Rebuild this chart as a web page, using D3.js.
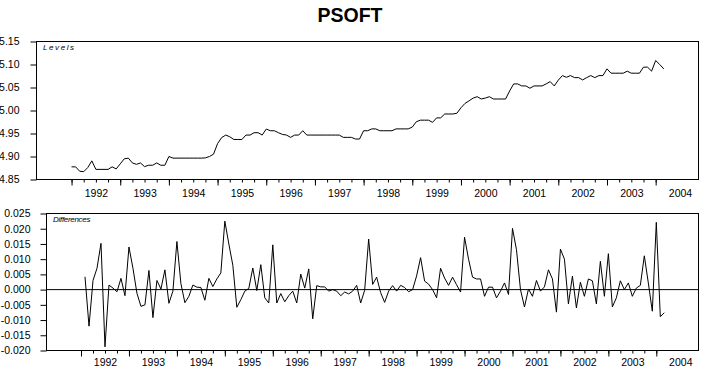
<!DOCTYPE html>
<html lang="en">
<head>
  <meta charset="UTF-8">
  <title>PSOFT</title>
  <style>
    body, html {
      margin: 0;
      padding: 0;
      background-color: white;
    }
    #svg {
      display: block;
      font-family: 'Liberation Sans', Arial, sans-serif;
    }
  </style>
</head>
<body>
  <svg id="svg" width="702" height="368"></svg>
  <script src="https://d3js.org/d3.v7.min.js"></script>
  <script>
    // monthly series, first level is 1992:01, first difference is 1992:02
    const startYear = 1992
    const levels = [
      4.8775, 4.8775, 4.868, 4.867, 4.876, 4.8905, 4.872, 4.872, 4.872, 4.872, 4.8775, 4.873,
      4.884, 4.895, 4.8965, 4.886, 4.883, 4.886, 4.878, 4.881, 4.881, 4.886, 4.881, 4.881,
      4.900, 4.8965, 4.8965, 4.8965, 4.8965, 4.8965, 4.8965, 4.8965, 4.8965, 4.897, 4.900, 4.905,
      4.928, 4.941, 4.9466, 4.943, 4.937, 4.937, 4.937, 4.9466, 4.9466, 4.9517, 4.9517, 4.9466,
      4.9597, 4.956, 4.956, 4.9517, 4.948, 4.9466, 4.9416, 4.9466, 4.9466, 4.956, 4.9466, 4.9466,
      4.9466, 4.9466, 4.9466, 4.9466, 4.9466, 4.9466, 4.9466, 4.9416, 4.9416, 4.9416, 4.938, 4.938,
      4.956, 4.956, 4.960, 4.960, 4.956, 4.956, 4.956, 4.956, 4.960, 4.960, 4.960, 4.960,
      4.964, 4.9756, 4.979, 4.979, 4.979, 4.9742, 4.984, 4.984, 4.9924, 4.9924, 4.9924, 4.994,
      5.006, 5.0154, 5.021, 5.027, 5.030, 5.025, 5.027, 5.030, 5.025, 5.025, 5.025, 5.025,
      5.0425, 5.0578, 5.0578, 5.0534, 5.0534, 5.0484, 5.0534, 5.0534, 5.0534, 5.0578, 5.0628, 5.0534,
      5.066, 5.0759, 5.0722, 5.0759, 5.0715, 5.0715, 5.0665, 5.0715, 5.0759, 5.0715, 5.0759, 5.0759,
      5.0905, 5.0811, 5.0811, 5.0811, 5.0811, 5.0855, 5.0811, 5.0811, 5.0811, 5.0942, 5.0942, 5.0855,
      5.1086, 5.100, 5.0905
    ]
    const differences = [
      0.0042, -0.0120, 0.0030, 0.0070, 0.0152, -0.0188, 0.0015, 0.0005, -0.0007, 0.0037, -0.0020,
      0.0140, 0.0070, -0.0012, -0.0055, -0.0050, 0.0063, -0.0092, 0.0030, 0.0002, 0.0065, -0.0045, -0.0005,
      0.0158, 0.0020, -0.0043, -0.0022, 0.0015, 0.0008, 0.0007, -0.0035, 0.0037, 0.0010, 0.0035, 0.0055,
      0.0225, 0.0150, 0.0080, -0.0058, -0.0033, -0.0005, 0.0004, 0.0071, -0.0003, 0.0082, -0.0027, -0.0044,
      0.0147, -0.0044, -0.0013, -0.0040, -0.0020, -0.0005, -0.0044, 0.0051, 0.0005, 0.0068, -0.0096, 0.0013,
      0.0009, 0.0009, -0.0005, 0.0000, -0.0005, -0.0020, -0.0008, -0.0014, -0.0005, 0.0014, -0.0044, -0.0002,
      0.0166, 0.0017, 0.0041, -0.0010, -0.0042, -0.0005, 0.0013, -0.0005, 0.0014, 0.0007, -0.0007, 0.0000,
      0.0045, 0.0105, 0.0028, 0.0018, 0.0000, -0.0027, 0.0070, 0.0038, 0.0014, 0.0041, 0.0016, -0.0008,
      0.0172, 0.0100, 0.0041, 0.0035, 0.0035, -0.0022, 0.0008, 0.0008, -0.0027, -0.0005, 0.0022, -0.0016,
      0.0201, 0.0131, 0.0000, -0.0057, 0.0002, -0.0022, 0.0030, -0.0005, 0.0009, 0.0065, 0.0035, -0.0074,
      0.0133, 0.0100, -0.0047, 0.0044, -0.0060, 0.0024, -0.0022, 0.0035, 0.0029, -0.0047, 0.0093, -0.0022,
      0.0118, -0.0057, -0.0027, 0.0029, 0.0000, 0.0022, -0.0022, 0.0005, 0.0014, 0.0111, 0.0022, -0.0071,
      0.0221, -0.0089, -0.0076
    ]
    const levelTicks = [4.85, 4.90, 4.95, 5.00, 5.05, 5.10, 5.15]
    const diffTicks = [-0.020, -0.015, -0.010, -0.005, 0.000, 0.005, 0.010, 0.015, 0.020, 0.025]
    const years = [1992, 1993, 1994, 1995, 1996, 1997, 1998, 1999, 2000, 2001, 2002, 2003, 2004]

    const svg = d3.select('#svg')
    const xDomain = [1991.28, 2004.88]
    const quarters = d3.range(years[0], years[years.length - 1] + 0.01, 0.25)

    svg.append('text')
      .text('PSOFT')
      .attr('x', 350)
      .attr('y', 21.5)
      .attr('text-anchor', 'middle')
      .style('font-weight', 'bold')
      .style('font-size', '19.5px')

    function panel(p) {
      const x = d3.scaleLinear().domain(xDomain).range([p.left, p.right])
      const y = d3.scaleLinear().domain(p.yDomain).range([p.bottom, p.top])
      const g = svg.append('g')

      const yAxis = g.append('g')
        .attr('transform', `translate(${p.left}, 0)`)
        .call(d3.axisLeft(y).tickValues(p.ticks).tickSize(6).tickPadding(p.yPad).tickFormat(p.fmt))
      yAxis.select('.domain').remove()

      const minor = g.append('g')
        .attr('transform', `translate(0, ${p.bottom})`)
        .call(d3.axisBottom(x).tickValues(quarters).tickSize(3).tickFormat(''))
      minor.select('.domain').remove()
      const major = g.append('g')
        .attr('transform', `translate(0, ${p.bottom})`)
        .call(d3.axisBottom(x).tickValues(years).tickSize(6).tickFormat(''))
      major.select('.domain').remove()
      const labels = g.append('g')
        .attr('transform', `translate(0, ${p.bottom})`)
        .call(d3.axisBottom(x).tickValues(years.map(d => d + 0.5)).tickSize(0).tickPadding(p.xPad).tickFormat(d => Math.floor(d)))
      labels.select('.domain').remove()

      g.selectAll('.tick text')
        .style('font-family', "'Liberation Sans', Arial, sans-serif")
        .style('font-size', '10.5px')
        .attr('fill', '#000')

      g.append('rect')
        .attr('x', p.left)
        .attr('y', p.top)
        .attr('width', p.right - p.left)
        .attr('height', p.bottom - p.top)
        .attr('fill', 'none')
        .attr('stroke', '#000')
        .attr('stroke-width', 1)

      if (p.zero) {
        g.append('line')
          .attr('x1', p.left)
          .attr('x2', p.right)
          .attr('y1', y(0))
          .attr('y2', y(0))
          .attr('stroke', '#000')
          .attr('stroke-width', 1)
      }

      const line = d3.line()
        .x((d, i) => x(startYear + (i + p.offset) / 12))
        .y(d => y(d))
      g.append('path')
        .datum(p.data)
        .attr('d', line)
        .attr('fill', 'none')
        .attr('stroke', '#000')
        .attr('stroke-width', 1)

      g.append('text')
        .text(p.label)
        .attr('x', p.labelX)
        .attr('y', p.top + 8.5)
        .style('font-style', 'italic')
        .style('font-size', '8px')
        .style('letter-spacing', p.spacing)
    }

    panel({
      left: 36.5, right: 698.5, top: 41.5, bottom: 179.5,
      yDomain: [4.85, 5.15], ticks: levelTicks, fmt: d => d.toFixed(2),
      yPad: 11, xPad: 10, data: levels, offset: 0,
      label: 'Levels', labelX: 43, spacing: '1.6px', zero: false
    })
    panel({
      left: 46.5, right: 698.5, top: 213.5, bottom: 350.5,
      yDomain: [-0.020, 0.025], ticks: diffTicks, fmt: d => d.toFixed(3),
      yPad: 10, xPad: 8, data: differences, offset: 1,
      label: 'Differences', labelX: 53, spacing: '-0.3px', zero: true
    })
  </script>
</body>
</html>
